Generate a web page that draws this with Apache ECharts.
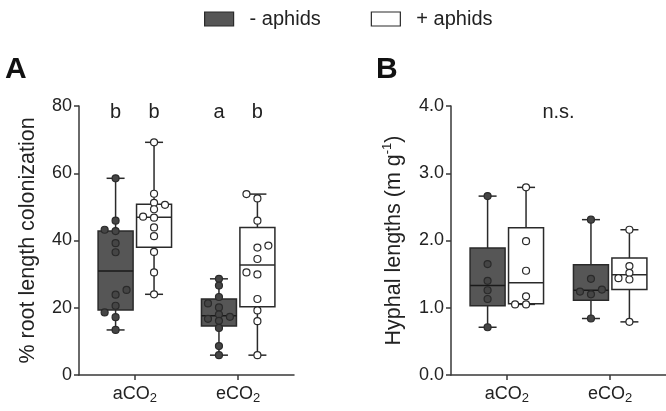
<!DOCTYPE html>
<html>
<head>
<meta charset="utf-8">
<script src="https://cdn.jsdelivr.net/npm/echarts@6/dist/echarts.min.js"></script>
<style>html,body{margin:0;padding:0;background:#fff;}#c{width:666px;height:411px;}</style>
</head>
<body>
<div id="c"></div>
<script>
// ---------------- data ----------------
const categories = ['aCO2', 'eCO2'];
const seriesNames = ['- aphids', '+ aphids'];

// Panel A: % root length colonization (individual points)
const rootMinusACO2 = [58.5, 45.9, 43.2, 42.8, 39.2, 36.5, 25.3, 23.9, 20.6, 18.6, 17.2, 13.4];
const rootMinusECO2 = [28.6, 26.6, 23.2, 21.3, 20.1, 18.0, 17.3, 16.7, 16.1, 14.0, 8.6, 5.9];
const rootPlusACO2  = [69.2, 53.9, 51.2, 50.6, 49.3, 47.1, 46.8, 43.9, 41.3, 36.6, 30.5, 24.0];
const rootPlusECO2  = [53.8, 52.5, 45.9, 38.5, 37.9, 34.5, 30.5, 29.9, 22.6, 19.2, 16.0, 5.9];
// box stats [min, Q1, median, Q3, max] per category
const rootBoxMinus = [[13.4, 19.3, 30.9, 42.8, 58.5], [5.9, 14.6, 17.6, 22.6, 28.6]];
const rootBoxPlus  = [[24.0, 38.0, 46.9, 50.8, 69.2], [5.9, 20.3, 32.7, 43.9, 53.8]];
const rootLettersMinus = ['b', 'a'];
const rootLettersPlus  = ['b', 'b'];

// Panel B: hyphal lengths (m g-1)
const hyphMinusACO2 = [2.66, 1.65, 1.40, 1.26, 1.13, 0.71];
const hyphMinusECO2 = [2.31, 1.43, 1.27, 1.24, 1.20, 0.84];
const hyphPlusACO2  = [2.79, 1.99, 1.55, 1.17, 1.05, 1.05];
const hyphPlusECO2  = [2.16, 1.62, 1.52, 1.44, 1.42, 0.79];
const hyphBoxMinus = [[0.71, 1.03, 1.33, 1.89, 2.66], [0.84, 1.11, 1.26, 1.64, 2.31]];
const hyphBoxPlus  = [[1.05, 1.06, 1.37, 2.19, 2.79], [0.79, 1.27, 1.49, 1.74, 2.16]];
const hyphLabel = 'n.s.';

const yTicksA = [0, 20, 40, 60, 80];
const yTicksB = [0.0, 1.0, 2.0, 3.0, 4.0];

// ---------------- style / layout ----------------
const FONT = 'Liberation Sans, Arial, Helvetica, sans-serif';
const TXT = '#222';
const AX = '#383838';
const DARK_FILL = '#565656', DARK_PT = '#454545', EDGE = '#2a2a2a';
const GRID_H = 269, GRID_W = 215;
const X_MIN = 0.46, X_MAX = 2.54;
const GROUP_OFF = 0.186;      // box offset from category centre (x units)
const BOX_W = 35;             // px
const CAP_W = 18;             // px
const STEP = 0.106;           // swarm column step (x units)
const COLLIDE = 6;            // px

function swarm(values, center, pxPerUnit) {
  const order = values.map((v, i) => i).sort((a, b) => values[a] - values[b]);
  const placed = [], cols = new Array(values.length);
  let nL = 0, nR = 0;
  for (const i of order) {
    const py = values[i] * pxPerUnit;
    const hit = c => placed.some(p => p.col === c && Math.abs(p.py - py) < COLLIDE);
    let col = 0;
    if (hit(0)) {
      const tries = nL <= nR ? [-1, 1, -2, 2] : [1, -1, 2, -2];
      col = tries.find(c => !hit(c));
      if (col < 0) nL++; else nR++;
    }
    placed.push({ col, py }); cols[i] = col;
  }
  return values.map((v, i) => [center + cols[i] * STEP, v]);
}

function boxData(stats, off) {
  return stats.map((s, i) => [i + 1 + off].concat(s));
}

function makeBoxRender(fill, medianColor) {
  return function (params, api) {
    const x = api.value(0);
    const p = [1, 2, 3, 4, 5].map(k => api.coord([x, api.value(k)]));
    const cx = p[0][0];
    const yMin = p[0][1], yQ1 = p[1][1], yMed = p[2][1], yQ3 = p[3][1], yMax = p[4][1];
    const ls = { stroke: EDGE, lineWidth: 1.5 };
    return {
      type: 'group',
      children: [
        { type: 'line', shape: { x1: cx, y1: yMin, x2: cx, y2: yMax }, style: ls },
        { type: 'line', shape: { x1: cx - CAP_W / 2, y1: yMin, x2: cx + CAP_W / 2, y2: yMin }, style: ls },
        { type: 'line', shape: { x1: cx - CAP_W / 2, y1: yMax, x2: cx + CAP_W / 2, y2: yMax }, style: ls },
        { type: 'rect', shape: { x: cx - BOX_W / 2, y: yQ3, width: BOX_W, height: yQ1 - yQ3 },
          style: { fill: fill, stroke: EDGE, lineWidth: 1.5 } },
        { type: 'line', shape: { x1: cx - BOX_W / 2, y1: yMed, x2: cx + BOX_W / 2, y2: yMed },
          style: { stroke: medianColor, lineWidth: 1.5 } }
      ]
    };
  };
}

function makeTextRender(texts) {
  return function (params, api) {
    const c = api.coord([api.value(0), api.value(1)]);
    return {
      type: 'text',
      style: { text: texts[params.dataIndex], x: c[0], y: c[1], fill: TXT,
               font: '20px ' + FONT, align: 'center', verticalAlign: 'middle' }
    };
  };
}

const subFmt = v => {
  const idx = Math.round(v) - 1;
  const name = categories[idx] || '';
  const m = name.match(/^(.*?)(\d+)$/);
  return m ? '{n|' + m[1] + '}{s|' + m[2] + '}' : '{n|' + name + '}';
};

function xAxisCfg(gridIndex) {
  return {
    type: 'value', gridIndex, min: X_MIN, max: X_MAX,
    splitLine: { show: false },
    axisLine: { show: true, onZero: false, lineStyle: { color: AX, width: 1.5 } },
    axisTick: { show: true, length: 5, customValues: [1, 2], lineStyle: { color: AX, width: 1.5 } },
    axisLabel: {
      customValues: [1, 2], formatter: subFmt, margin: 8,
      rich: {
        n: { fontSize: 18, fontFamily: FONT, color: TXT, lineHeight: 22 },
        s: { fontSize: 13, fontFamily: FONT, color: TXT, lineHeight: 6, verticalAlign: 'bottom' }
      }
    }
  };
}

function yAxisCfg(gridIndex, ticks, decimals, name, nameGap, rich) {
  return {
    type: 'value', gridIndex, min: ticks[0], max: ticks[ticks.length - 1],
    interval: ticks[1] - ticks[0],
    splitLine: { show: false },
    axisLine: { show: true, lineStyle: { color: AX, width: 1.5 } },
    axisTick: { show: true, length: 5, lineStyle: { color: AX, width: 1.5 } },
    axisLabel: { fontSize: 18, fontFamily: FONT, color: TXT, margin: 7,
                 formatter: v => v.toFixed(decimals) },
    name: name, nameLocation: 'middle', nameGap: nameGap, nameMoveOverlap: false,
    nameTextStyle: Object.assign({ fontSize: 21.5, fontFamily: FONT, color: TXT }, rich ? { rich } : {})
  };
}

const chart = echarts.init(document.getElementById('c'), null, { renderer: 'canvas' });

const pxA = GRID_H / (yTicksA[yTicksA.length - 1] - yTicksA[0]);
const pxB = GRID_H / (yTicksB[yTicksB.length - 1] - yTicksB[0]);

function pointsSeries(name, xi, yi, groups, pxPerUnit, off, fill) {
  let data = [];
  groups.forEach((g, i) => { data = data.concat(swarm(g, i + 1 + off, pxPerUnit)); });
  return {
    type: 'scatter', name, xAxisIndex: xi, yAxisIndex: yi, data,
    symbol: 'circle', symbolSize: 7, z: 5, silent: true,
    itemStyle: { color: fill, borderColor: EDGE, borderWidth: 1.2, opacity: 1 }
  };
}

function boxSeries(name, xi, yi, stats, off, fill, med) {
  return {
    type: 'custom', name, xAxisIndex: xi, yAxisIndex: yi, z: 2, silent: true,
    data: boxData(stats, off), encode: { x: 0, y: [1, 2, 3, 4, 5] },
    renderItem: makeBoxRender(fill, med)
  };
}

function textSeries(xi, yi, xs, level, texts) {
  return {
    type: 'custom', xAxisIndex: xi, yAxisIndex: yi, z: 6, silent: true,
    data: xs.map(x => [x, level]), encode: { x: 0, y: 1 },
    renderItem: makeTextRender(texts)
  };
}

const option = {
  animation: false,
  backgroundColor: '#fff',
  title: [
    { text: 'A', left: 0, top: 50, textStyle: { fontSize: 30, fontWeight: 'bold', fontFamily: FONT, color: '#111' } },
    { text: 'B', left: 371, top: 50, textStyle: { fontSize: 30, fontWeight: 'bold', fontFamily: FONT, color: '#111' } }
  ],
  legend: {
    left: 199, top: 4, itemWidth: 29, itemHeight: 14, itemGap: 50, selectedMode: false,
    textStyle: { fontSize: 20, fontFamily: FONT, color: TXT, padding: [0, 0, 0, 11] },
    data: [
      { name: seriesNames[0], icon: 'rect', itemStyle: { color: DARK_FILL, borderColor: EDGE, borderWidth: 1.2 } },
      { name: seriesNames[1], icon: 'rect', itemStyle: { color: '#fff', borderColor: EDGE, borderWidth: 1.2 } }
    ]
  },
  grid: [
    { left: 79, top: 106, width: GRID_W, height: GRID_H },
    { left: 451, top: 106, width: GRID_W, height: GRID_H }
  ],
  xAxis: [xAxisCfg(0), xAxisCfg(1)],
  yAxis: [
    yAxisCfg(0, yTicksA, 0, '% root length colonization', 40),
    yAxisCfg(1, yTicksB, 1, '{t|Hyphal lengths (m g}{sup|-1}{t|)}', 44, {
      t: { fontSize: 21.5, fontFamily: FONT, color: TXT, lineHeight: 26 },
      sup: { fontSize: 13, fontFamily: FONT, color: TXT, lineHeight: 14, verticalAlign: 'top' }
    })
  ],
  series: [
    boxSeries(seriesNames[0], 0, 0, rootBoxMinus, -GROUP_OFF, DARK_FILL, '#1a1a1a'),
    boxSeries(seriesNames[1], 0, 0, rootBoxPlus, GROUP_OFF, '#fff', EDGE),
    pointsSeries(seriesNames[0], 0, 0, [rootMinusACO2, rootMinusECO2], pxA, -GROUP_OFF, DARK_PT),
    pointsSeries(seriesNames[1], 0, 0, [rootPlusACO2, rootPlusECO2], pxA, GROUP_OFF, '#fff'),
    textSeries(0, 0, [1 - GROUP_OFF, 2 - GROUP_OFF], 78, rootLettersMinus),
    textSeries(0, 0, [1 + GROUP_OFF, 2 + GROUP_OFF], 78, rootLettersPlus),

    boxSeries(seriesNames[0], 1, 1, hyphBoxMinus, -GROUP_OFF, DARK_FILL, '#1a1a1a'),
    boxSeries(seriesNames[1], 1, 1, hyphBoxPlus, GROUP_OFF, '#fff', EDGE),
    pointsSeries(seriesNames[0], 1, 1, [hyphMinusACO2, hyphMinusECO2], pxB, -GROUP_OFF, DARK_PT),
    pointsSeries(seriesNames[1], 1, 1, [hyphPlusACO2, hyphPlusECO2], pxB, GROUP_OFF, '#fff'),
    textSeries(1, 1, [1.5], 3.9, [hyphLabel])
  ]
};
chart.setOption(option);
</script>
</body>
</html>
